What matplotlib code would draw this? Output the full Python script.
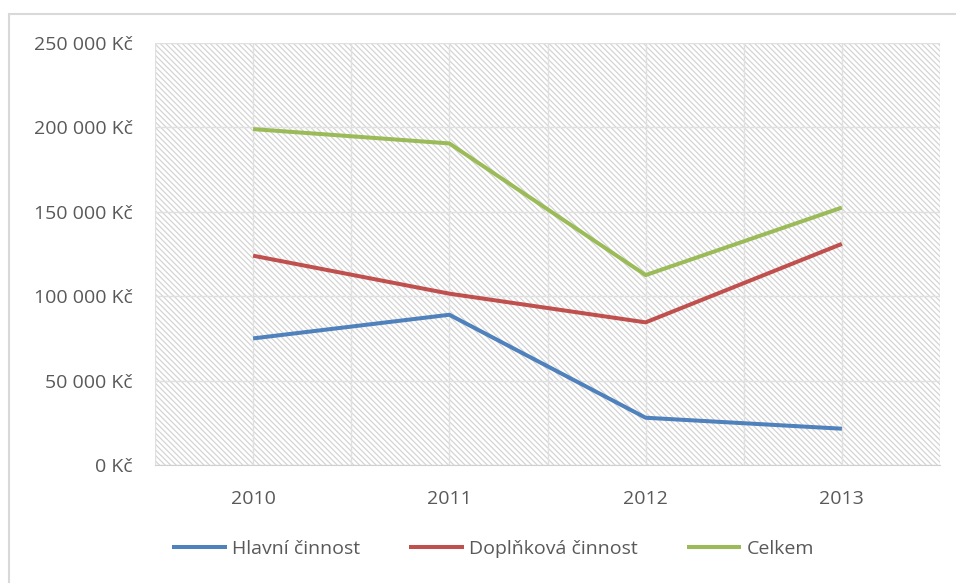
import matplotlib.pyplot as plt
from matplotlib.patches import Rectangle
from matplotlib.ticker import FuncFormatter, MultipleLocator

years = ["2010", "2011", "2012", "2013"]
hlavni = [75000, 89000, 28000, 21500]
doplnkova = [124000, 101500, 84500, 131000]
celkem = [199000, 190500, 112500, 152500]

names = ["Hlavní činnost", "Doplňková činnost", "Celkem"]
colors = ["#4F81BD", "#C0504D", "#9BBB59"]

plt.rcParams["font.family"] = ["Open Sans", "DejaVu Sans"]
plt.rcParams["hatch.linewidth"] = 0.9
plt.rcParams["hatch.color"] = "#d4d4d4"

fig = plt.figure(figsize=(9.56, 5.83), dpi=100)
# outer chart border: only top and left edges are visible in the crop
fig.patches.append(Rectangle((9 / 956, -10 / 583), 960 / 956, 579 / 583,
                             transform=fig.transFigure, fill=False,
                             edgecolor="#d9d9d9", linewidth=1.5))

ax = fig.add_axes([155 / 956, 118 / 583, 785 / 956, 422 / 583])
x = list(range(len(years)))

ax.add_patch(Rectangle((0, 0), 1, 1, transform=ax.transAxes, facecolor="white",
                       edgecolor="#d4d4d4", hatch="\\\\\\\\\\\\", linewidth=0, zorder=0))

for vals, name, c in zip([hlavni, doplnkova, celkem], names, colors):
    ax.plot(x, vals, color=c, linewidth=2.9, label=name, solid_capstyle="butt", zorder=3)

ax.set_xlim(-0.5, 3.5)
ax.set_ylim(0, 250000)
ax.set_xticks(x)
ax.set_xticklabels(years)
ax.xaxis.set_minor_locator(MultipleLocator(0.5))
ax.yaxis.set_major_locator(MultipleLocator(50000))
ax.yaxis.set_major_formatter(FuncFormatter(lambda v, p: f"{int(v):,} Kč".replace(",", " ")))

ax.grid(True, which="both", axis="x", color="#e0e0e0", linewidth=1, zorder=1)
ax.grid(True, which="major", axis="y", color="#e0e0e0", linewidth=1, zorder=1)
ax.set_axisbelow(True)
for s in ["top", "right", "left"]:
    ax.spines[s].set_visible(False)
ax.spines["bottom"].set_color("#d0d0d0")
ax.tick_params(axis="both", which="both", length=0, labelsize=14, labelcolor="#595959")
ax.tick_params(axis="y", pad=16)
ax.tick_params(axis="x", pad=18)

fig.legend(loc="lower center", bbox_to_anchor=(0.516, 0.013), ncol=3, frameon=False,
           fontsize=14, labelcolor="#595959", handlelength=2.8, handletextpad=0.3,
           columnspacing=2.5)

fig.savefig("out.png", dpi=100)
